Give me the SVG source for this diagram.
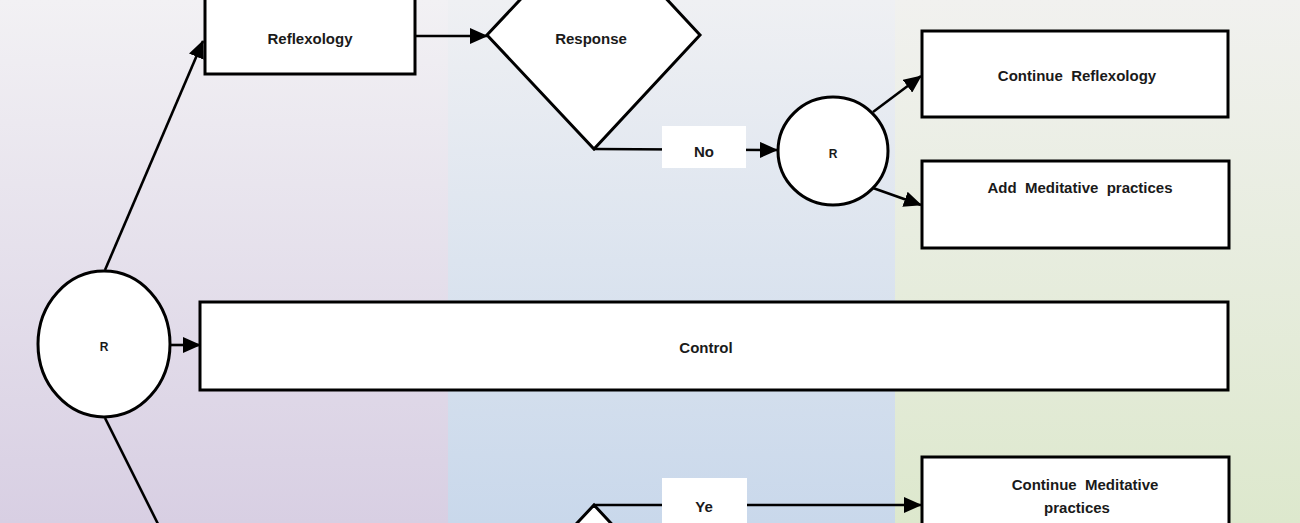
<svg xmlns="http://www.w3.org/2000/svg" width="1300" height="523" viewBox="0 0 1300 523">
<defs>
<linearGradient id="gL" x1="0" y1="0" x2="0" y2="1"><stop offset="0" stop-color="#f2f1f4"/><stop offset="1" stop-color="#d8cfe3"/></linearGradient>
<linearGradient id="gM" x1="0" y1="0" x2="0" y2="1"><stop offset="0" stop-color="#eff0f3"/><stop offset="1" stop-color="#c9d8eb"/></linearGradient>
<linearGradient id="gR" x1="0" y1="0" x2="0" y2="1"><stop offset="0" stop-color="#f1f1ef"/><stop offset="1" stop-color="#dde8cd"/></linearGradient>
<marker id="ah" markerUnits="userSpaceOnUse" markerWidth="18" markerHeight="16" refX="17" refY="8" orient="auto"><path d="M0,0 L18,8 L0,16 z" fill="#000"/></marker>
<style>
.shape{fill:#fff;stroke:#000;stroke-width:3}
.conn{fill:none;stroke:#000;stroke-width:2.6}
.lbl{fill:#fff;stroke:none}
text{font-family:"Liberation Sans",Arial,sans-serif;font-weight:bold;font-size:15px;fill:#1a1a1a;text-anchor:middle;dominant-baseline:central;white-space:pre}
.sm{font-size:12px}
</style>
</defs>
<g id="background">
<rect x="0" y="0" width="448" height="523" fill="url(#gL)"/>
<rect x="448" y="0" width="447" height="523" fill="url(#gM)"/>
<rect x="895" y="0" width="405" height="523" fill="url(#gR)"/>
</g>
<g id="connectors">
<line class="conn" x1="105" y1="270" x2="203" y2="41" marker-end="url(#ah)"/>
<line class="conn" x1="415" y1="36" x2="487" y2="36" marker-end="url(#ah)"/>
<line class="conn" x1="594" y1="149" x2="777" y2="150" marker-end="url(#ah)"/>
<line class="conn" x1="873" y1="112" x2="921" y2="76" marker-end="url(#ah)"/>
<line class="conn" x1="873" y1="188" x2="921" y2="205" marker-end="url(#ah)"/>
<line class="conn" x1="170" y1="345" x2="200" y2="345" marker-end="url(#ah)"/>
<line class="conn" x1="105" y1="418" x2="161" y2="530"/>
<line class="conn" x1="594" y1="505" x2="921" y2="505" marker-end="url(#ah)"/>
<rect class="lbl" x="662" y="126" width="84" height="42"/>
<text x="704" y="151">No</text>
<rect class="lbl" x="662" y="478" width="85" height="50"/>
<text x="704" y="506">Ye</text>
</g>
<g id="reflexology">
<rect class="shape" x="205" y="-6" width="210" height="80"/>
<text x="310" y="38">Reflexology</text>
</g>
<g id="response">
<polygon class="shape" points="594,-79 700,35 594,149 487,35"/>
<text x="591" y="38">Response</text>
</g>
<g id="r-small">
<ellipse class="shape" cx="833" cy="151" rx="55" ry="54"/>
<text class="sm" x="833" y="154">R</text>
</g>
<g id="continue-reflexology">
<rect class="shape" x="922" y="31" width="306" height="86"/>
<text x="1077" y="75">Continue  Reflexology</text>
</g>
<g id="add-meditative">
<rect class="shape" x="922" y="161" width="307" height="87"/>
<text x="1080" y="187">Add  Meditative  practices</text>
</g>
<g id="r-main">
<ellipse class="shape" cx="104" cy="344" rx="66" ry="73"/>
<text class="sm" x="104" y="347">R</text>
</g>
<g id="control">
<rect class="shape" x="200" y="302" width="1028" height="88"/>
<text x="706" y="347">Control</text>
</g>
<g id="decision-bottom">
<polygon class="shape" points="594,505 700,619 594,733 487,619"/>
</g>
<g id="continue-meditative">
<rect class="shape" x="922" y="457" width="307" height="90"/>
<text x="1085" y="484">Continue  Meditative</text>
<text x="1077" y="507">practices</text>
</g>
</svg>
